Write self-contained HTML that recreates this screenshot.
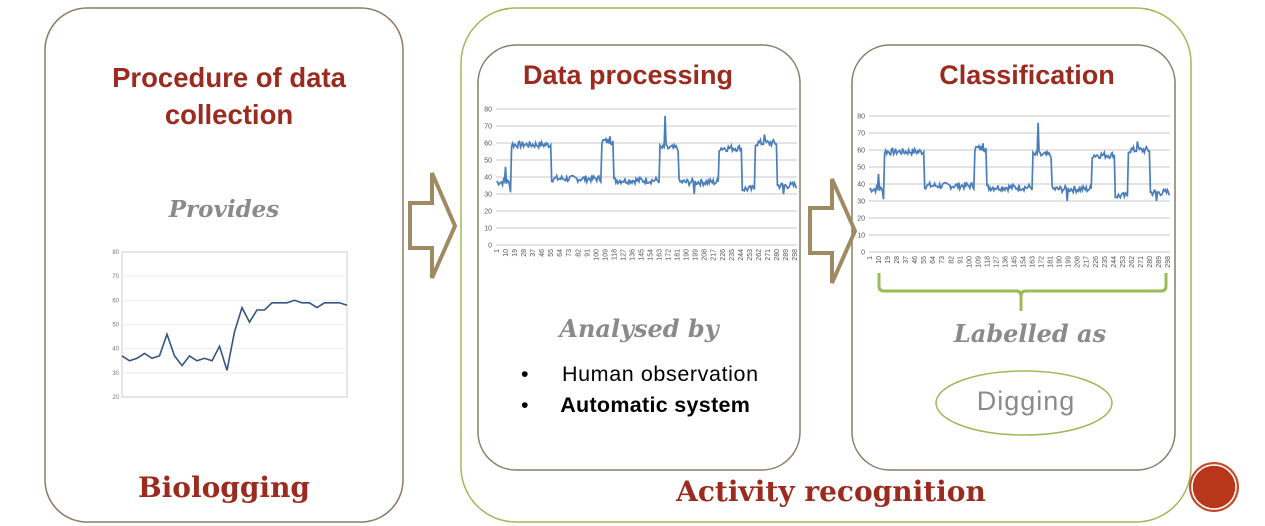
<!DOCTYPE html>
<html><head><meta charset="utf-8"><style>
html,body{margin:0;padding:0;background:#fff;}
body{width:1265px;height:526px;position:relative;overflow:hidden;font-family:"Liberation Sans",sans-serif;}
.t{position:absolute;text-align:center;white-space:nowrap;}
.red{color:#9b2b1e;font-weight:bold;}
.slab{font-family:"DejaVu Serif","Liberation Serif",serif;font-weight:bold;}
</style></head><body>
<svg id="s" width="1265" height="526" style="position:absolute;left:0;top:0">
<rect x="45" y="8" width="358" height="514" rx="42" fill="none" stroke="#8c7b66" stroke-width="1.5"/>
<rect x="461" y="8" width="730" height="514" rx="55" fill="none" stroke="#9bbb59" stroke-width="1.5"/>
<rect x="478" y="45" width="322" height="425" rx="38" fill="none" stroke="#8c7b66" stroke-width="1.5"/>
<rect x="852" y="45" width="323" height="425" rx="38" fill="none" stroke="#8c7b66" stroke-width="1.5"/>
<polygon points="410,203 432,203 432,173 455,226 432,278 432,248 410,248" fill="none" stroke="#a08a62" stroke-width="4" stroke-linejoin="miter"/>
<polygon points="810,208 832,208 832,179 855,231 832,283 832,253 810,253" fill="none" stroke="#a08a62" stroke-width="4"/>
<path d="M879,273 L879,286 Q879,291 884,291 L1016,291 Q1021,291 1021,296 L1021,311 M1021,296 Q1021,291 1026,291 L1161,291 Q1166,291 1166,286 L1166,273" fill="none" stroke="#9bbb59" stroke-width="3"/>
<ellipse cx="1024" cy="403" rx="88" ry="32" fill="none" stroke="#9bbb59" stroke-width="1.5"/>
<circle cx="1214" cy="487" r="25" fill="#c64a2c"/>
<circle cx="1214" cy="487" r="22" fill="#b8361a" stroke="#fff" stroke-width="1.5"/>
<g id="g"></g>
</svg>
<div class="t red" style="left:45px;width:368px;top:59px;font-size:27.5px;line-height:37px">Procedure of data<br>collection</div>
<div class="t slab" style="left:45px;width:358px;top:196px;font-size:23px;color:#8a8a8a;font-style:italic">Provides</div>
<div class="t red slab" style="left:45px;width:358px;top:471px;font-size:28px">Biologging</div>
<div class="t red slab" style="left:461px;width:740px;top:475px;font-size:28px">Activity recognition</div>
<div class="t red" style="left:478px;width:300px;top:60px;font-size:27px">Data processing</div>
<div class="t red" style="left:852px;width:350px;top:60px;font-size:27px">Classification</div>
<div class="t slab" style="left:478px;width:322px;top:314px;font-size:24px;color:#8a8a8a;font-style:italic">Analysed by</div>
<div class="t slab" style="left:852px;width:356px;top:319px;font-size:24px;color:#8a8a8a;font-style:italic">Labelled as</div>
<div class="t" style="left:521px;top:362px;font-size:21.5px;text-align:left;letter-spacing:0.6px">•&nbsp;&nbsp;&nbsp;&nbsp;&nbsp;Human observation</div>
<div class="t" style="left:521px;top:393px;font-size:21.5px;text-align:left;letter-spacing:0.3px">•&nbsp;&nbsp;&nbsp;&nbsp;&nbsp;<b>Automatic system</b></div>
<div class="t" style="left:936px;width:180px;top:386px;font-size:27px;color:#8a8a8a;letter-spacing:1px">Digging</div>
<script>
var NS="http://www.w3.org/2000/svg",g=document.getElementById("g");
function el(n,a,t){var e=document.createElementNS(NS,n);for(var k in a)e.setAttribute(k,a[k]);if(t!==undefined)e.textContent=t;g.appendChild(e);return e;}
var seed=7;function rnd(){seed=(seed*9301+49297)%233280;return seed/233280;}
var levels=[[0,15,37],[15,55,59],[55,105,39],[105,117,61],[117,163,38],[163,182,57],[182,222,37],[222,245,57],[245,258,33],[258,280,60],[280,300,35]];
var data=[];for(var i=0;i<300;i++){var v=37;for(var j=0;j<levels.length;j++)if(i>=levels[j][0]&&i<levels[j][1])v=levels[j][2];data.push(v+(rnd()-0.5)*4);}
data[9]=46;data[14]=31;data[168]=76;data[113]=64;data[267]=65;data[197]=30;data[286]=30;
function chart(x0,x1,y80,y0,fs){
 var dy=(y0-y80)/8;
 for(var k=0;k<=8;k++){var y=y80+k*dy;el("line",{x1:x0,x2:x1,y1:y,y2:y,stroke:"#c8c8c8","stroke-width":1});
  el("text",{x:x0-4,y:y+2.5,"font-size":fs,"text-anchor":"end",fill:"#555","font-family":"Liberation Sans"},""+(80-k*10));}
 var d="",w=(x1-x0)/300;
 for(var i=0;i<300;i++){d+=(i?"L":"M")+(x0+i*w+w/2).toFixed(1)+","+(y0-data[i]*dy/10).toFixed(1);}
 el("path",{d:d,fill:"none",stroke:"#4a7ebb","stroke-width":1.7});
 for(var i=0;i<34;i++){var lab=1+i*9,x=x0+(lab-1)*w+3;
  el("text",{x:0,y:0,"font-size":fs,fill:"#555","font-family":"Liberation Sans",transform:"translate("+x+","+(y0+4)+") rotate(-90)","text-anchor":"end"},""+lab);}
}
chart(496,797,109,245,7);
chart(869,1170,116,252,7);
var sd=[37,35,36,38,36,37,46,37,33,37,35,36,35,41,31,47,57,51,56,56,59,59,59,60,59,59,57,59,59,59,58];
var sx0=122,sx1=347,sy80=252,sy20=397,sdy=(sy20-sy80)/6;
el("rect",{x:sx0,y:sy80,width:sx1-sx0,height:sy20-sy80,fill:"none",stroke:"#ccc","stroke-width":1});
for(var k=0;k<=6;k++){var y=sy80+k*sdy;if(k>0&&k<6)el("line",{x1:sx0,x2:sx1,y1:y,y2:y,stroke:"#eee"});
 el("text",{x:sx0-3,y:y+2,"font-size":6,"text-anchor":"end",fill:"#777","font-family":"Liberation Sans"},""+(80-k*10));}
var d="";for(var i=0;i<sd.length;i++){d+=(i?"L":"M")+(sx0+i*(sx1-sx0)/30).toFixed(1)+","+(sy20-(sd[i]-20)*sdy/10).toFixed(1);}
el("path",{d:d,fill:"none",stroke:"#34557f","stroke-width":1.6});
</script>
</body></html>
